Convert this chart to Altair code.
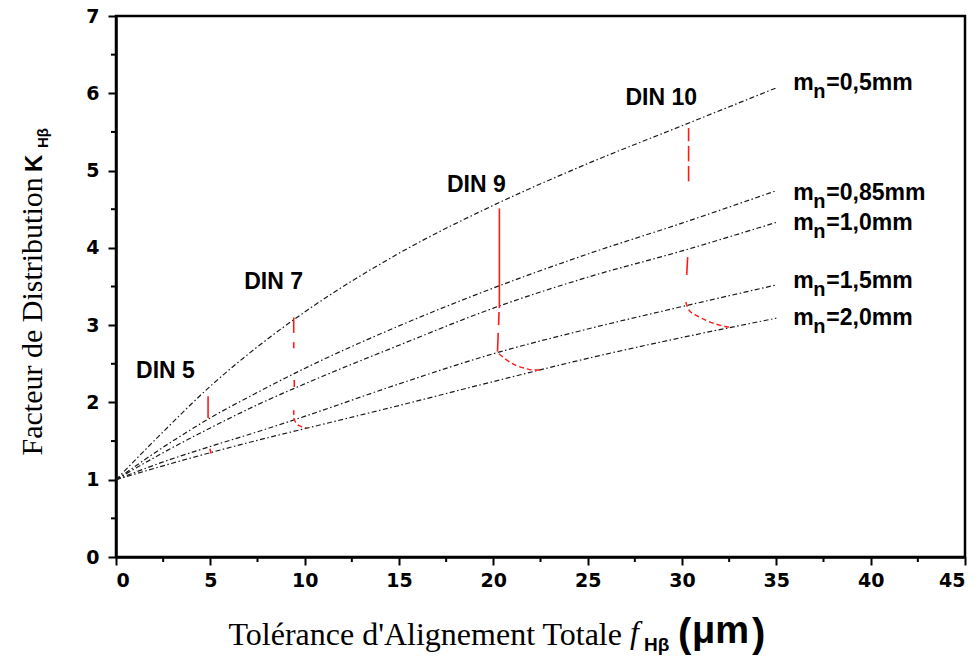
import altair as alt
import pandas as pd

# ---- data ----
x_pts = [0, 2.5, 5, 7.5, 10, 15, 20, 25, 30, 35]
k_05 = [1.00, 1.62, 2.21, 2.72, 3.17, 3.93, 4.55, 5.09, 5.58, 6.07]
k_085 = [1.00, 1.42, 1.80, 2.13, 2.44, 2.99, 3.48, 3.92, 4.32, 4.74]
k_10 = [1.00, 1.35, 1.67, 1.97, 2.24, 2.74, 3.22, 3.62, 3.96, 4.33]
k_15 = [1.00, 1.23, 1.43, 1.62, 1.82, 2.24, 2.63, 2.95, 3.24, 3.52]
k_20 = [1.00, 1.18, 1.35, 1.51, 1.66, 1.96, 2.27, 2.57, 2.84, 3.09]
series_names = ["0,5", "0,85", "1,0", "1,5", "2,0"]

label_rest = ["=0,5mm", "=0,85mm", "=1,0mm", "=1,5mm", "=2,0mm"]
label_x = [35.9, 35.9, 35.9, 35.9, 35.9]
label_y = [6.04, 4.62, 4.23, 3.48, 3.00]

din_text = ["DIN 5", "DIN 7", "DIN 9", "DIN 10"]
din_x = [2.62, 8.35, 19.1, 28.9]
din_y = [2.41, 3.56, 4.81, 5.94]

# red tolerance paths (visible pieces)
red_solid_piece = ["d5a", "d5a", "d5b", "d5b",
                   "d7a", "d7a", "d7b", "d7b", "d7c", "d7c", "d7d", "d7d",
                   "d9a", "d9a", "d9b", "d9b", "d9c", "d9c",
                   "d10a", "d10a", "d10b", "d10b", "d10c", "d10c", "d10d", "d10d"]
red_solid_x = [4.88, 4.88, 4.98, 5.04,
               9.42, 9.42, 9.42, 9.42, 9.45, 9.45, 9.42, 9.42,
               20.32, 20.32, 20.30, 20.28, 20.26, 20.22,
               30.35, 30.35, 30.35, 30.35, 30.35, 30.35, 30.30, 30.25]
red_solid_y = [2.08, 1.80, 1.40, 1.34,
               3.10, 2.90, 2.78, 2.70, 2.29, 2.20, 1.90, 1.84,
               4.51, 3.22, 3.17, 3.00, 2.90, 2.66,
               5.55, 5.38, 5.32, 5.12, 5.06, 4.86, 3.88, 3.65]

red_curve_piece = ["d7e"] * 4 + ["d9d"] * 6 + ["d10e"] * 6
red_curve_x = [9.42, 9.55, 9.80, 10.10,
               20.30, 20.70, 21.20, 21.70, 22.10, 22.60,
               30.20, 30.35, 30.80, 31.30, 32.00, 32.60]
red_curve_y = [1.80, 1.73, 1.69, 1.67,
               2.63, 2.55, 2.48, 2.44, 2.42, 2.42,
               3.30, 3.20, 3.12, 3.06, 3.00, 2.97]

y_minor = [0.5, 1.5, 2.5, 3.5, 4.5, 5.5, 6.5]
x_minor = [2.5, 7.5, 12.5, 17.5, 22.5, 27.5, 32.5, 37.5, 42.5]

# ---- tables ----
rows = []
for name, ks in zip(series_names, [k_05, k_085, k_10, k_15, k_20]):
    for xv, kv in zip(x_pts, ks):
        rows.append({"x": xv, "k": kv, "mn": name})
df_lines = pd.DataFrame(rows)

df_labels = pd.DataFrame({"x": label_x, "k": label_y, "rest": label_rest,
                          "m": ["m"] * 5, "n": ["n"] * 5})
df_din = pd.DataFrame({"x": din_x, "k": din_y, "t": din_text})
df_red_solid = pd.DataFrame({"x": red_solid_x, "k": red_solid_y, "p": red_solid_piece,
                             "o": list(range(len(red_solid_x)))})
df_red_curve = pd.DataFrame({"x": red_curve_x, "k": red_curve_y, "p": red_curve_piece,
                             "o": list(range(len(red_curve_x)))})
df_ym = pd.DataFrame({"k": y_minor})
df_xm = pd.DataFrame({"x": x_minor})

SANS = "Liberation Sans"
SERIF = "Liberation Serif"
TICKF = "DejaVu Sans"
W, H = 849, 541

xscale = alt.Scale(domain=[0, 45], nice=False, zero=False)
yscale = alt.Scale(domain=[0, 7], nice=False, zero=False)

xaxis = alt.Axis(values=list(range(0, 46, 5)), format="d", grid=False,
                 labelFont=TICKF, labelFontWeight="bold", labelFontSize=19,
                 labelColor="black", labelPadding=6, tickSize=8, tickWidth=2,
                 tickColor="black", domainColor="black", domainWidth=2.5,
                 title="Tolérance d'Alignement Totale", titleFont=SERIF,
                 titleFontSize=32, titleFontWeight="normal", titleColor="black",
                 titleX=112, titleY=87, titleAlign="left", titleBaseline="alphabetic")
yaxis = alt.Axis(values=list(range(0, 8)), format="d", grid=False,
                 labelFont=TICKF, labelFontWeight="bold", labelFontSize=19,
                 labelColor="black", labelPadding=9, tickSize=8, tickWidth=2,
                 tickColor="black", domainColor="black", domainWidth=2.5,
                 title="Facteur de Distribution", titleFont=SERIF,
                 titleFontSize=30, titleFontWeight="normal", titleColor="black",
                 titleAngle=270, titleX=-75, titleY=439, titleAlign="left",
                 titleBaseline="alphabetic")

X = alt.X("x:Q", scale=xscale, axis=xaxis)
Y = alt.Y("k:Q", scale=yscale, axis=yaxis)

lines = alt.Chart(df_lines).mark_line(
    color="#1a1a1a", strokeWidth=1.2, strokeDash=[5, 2.5, 1.5, 2.5], interpolate="monotone"
).encode(x=X, y=Y, detail="mn:N")

red_solid = alt.Chart(df_red_solid).mark_line(color="#ff1a1a", strokeWidth=1.6).encode(
    x="x:Q", y="k:Q", detail="p:N", order="o:Q")
red_curve = alt.Chart(df_red_curve).mark_line(
    color="#ff1a1a", strokeWidth=1.4, strokeDash=[5, 3], interpolate="monotone").encode(
    x="x:Q", y="k:Q", detail="p:N", order="o:Q")

lab_m = alt.Chart(df_labels).mark_text(
    font=SANS, fontWeight="bold", fontSize=23, align="left", baseline="alphabetic",
    color="black").encode(x="x:Q", y="k:Q", text="m:N")
lab_n = alt.Chart(df_labels).mark_text(
    font=SANS, fontWeight="bold", fontSize=20, align="left", baseline="alphabetic",
    color="black", dx=20, dy=8).encode(x="x:Q", y="k:Q", text="n:N")
lab_rest = alt.Chart(df_labels).mark_text(
    font=SANS, fontWeight="bold", fontSize=23, align="left", baseline="alphabetic",
    color="black", dx=33).encode(x="x:Q", y="k:Q", text="rest:N")

din = alt.Chart(df_din).mark_text(
    font=SANS, fontWeight="bold", fontSize=23, align="center", baseline="middle",
    color="black").encode(x="x:Q", y="k:Q", text="t:N")

ymin = alt.Chart(df_ym).mark_rule(color="black", strokeWidth=2).encode(
    y="k:Q", x=alt.value(-5), x2=alt.value(0))
xmin = alt.Chart(df_xm).mark_rule(color="black", strokeWidth=2).encode(
    x="x:Q", y=alt.value(H), y2=alt.value(H + 5))

def piece(txt, x, y, font, size, weight="bold", style="normal", angle=0):
    kw = dict(font=font, fontSize=size, fontWeight=weight, fontStyle=style,
              align="left", baseline="alphabetic", color="black")
    if angle:
        kw["angle"] = angle
    return alt.Chart(pd.DataFrame({"t": [txt]})).mark_text(**kw).encode(
        text="t:N", x=alt.value(x), y=alt.value(y))

t_f = piece("f", 514, 627, SERIF, 32, weight="normal", style="italic")
t_hb = piece("Hβ", 528, 635, SANS, 19)
t_lp = piece("(", 562, 631, SANS, 40)
t_um = piece("μm", 576, 627, SANS, 38)
t_rp = piece(")", 636, 631, SANS, 40)
t_k = piece("K", -74, 156, SANS, 24, angle=270)
t_khb = piece("Hβ", -68, 132, SANS, 15, angle=270)

chart = alt.layer(
    lines, red_solid, red_curve, lab_m, lab_n, lab_rest, din, ymin, xmin,
    t_f, t_hb, t_lp, t_um, t_rp, t_k, t_khb
).properties(
    width=W, height=H,
    autosize=alt.AutoSizeParams(type="none"),
    padding={"left": 116, "top": 16, "right": 14, "bottom": 100},
    background="white",
).configure_view(stroke="black", strokeWidth=2.5)

chart.save("out.html", embed_options={"renderer": "svg", "actions": False})
